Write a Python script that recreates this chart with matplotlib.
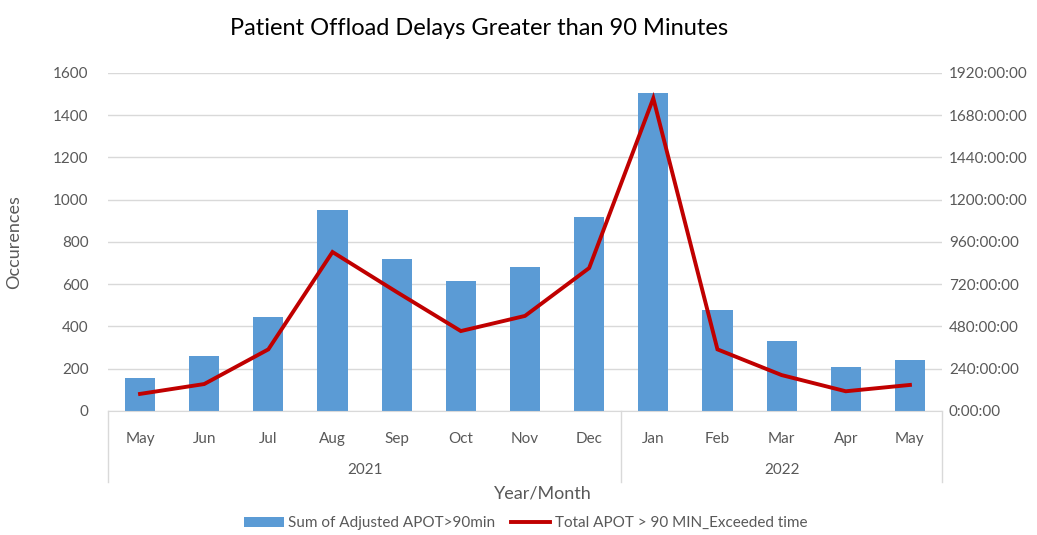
import numpy as np
import matplotlib
matplotlib.use("Agg")
import matplotlib.pyplot as plt
from matplotlib.ticker import FuncFormatter

months = ["May", "Jun", "Jul", "Aug", "Sep", "Oct", "Nov", "Dec",
          "Jan", "Feb", "Mar", "Apr", "May"]
years = ["2021", "2022"]
year_counts = [8, 5]
occurrences = [158, 262, 447, 951, 720, 616, 682, 918, 1505, 479, 332, 206, 239]
exceeded_hours = [97, 153, 350, 903, 676, 454, 540, 812, 1776, 350, 204, 112, 148]

plt.rcParams['font.family'] = ['Lato', 'DejaVu Sans']
grey = '#595959'

fig = plt.figure(figsize=(10.37, 5.35), dpi=100)
ax = fig.add_axes([0.1041, 0.2318, 0.8043, 0.6318])
ax2 = ax.twinx()

x = np.arange(len(months))
bars = ax.bar(x, occurrences, width=0.47, color='#5b9bd5', zorder=2,
              label='Sum of Adjusted APOT>90min')
line, = ax2.plot(x, exceeded_hours, color='#c00000', lw=2.8, zorder=3,
                 solid_joinstyle='miter', label='Total APOT > 90 MIN_Exceeded time')

ax.set_xlim(-0.5, len(months) - 0.5)
ax.set_ylim(0, 1600)
ax.set_yticks(range(0, 1601, 200))
ax2.set_ylim(0, 1920)
ax2.set_yticks(range(0, 1921, 240))
ax2.yaxis.set_major_formatter(FuncFormatter(lambda v, p: f"{int(v)}:00:00"))

ax.grid(axis='y', color='#d9d9d9', lw=1, zorder=0)
ax.set_axisbelow(True)
for a in (ax, ax2):
    for s in a.spines.values():
        s.set_visible(False)
    a.tick_params(length=0, colors=grey, labelsize=11)
ax.spines['bottom'].set_visible(True)
ax.spines['bottom'].set_color('#d9d9d9')
ax.tick_params(axis='y', pad=14)
ax2.tick_params(axis='y', pad=5)
ax.set_zorder(ax2.get_zorder() - 1)
ax2.patch.set_visible(False)
ax.patch.set_visible(False)

ax.set_xticks(x)
ax.set_xticklabels(months)
ax.tick_params(axis='x', pad=15)

# year group labels and separators
start = 0
bounds = [-0.5]
for yr, n in zip(years, year_counts):
    mid = start + (n - 1) / 2
    ax.text(mid, -0.175, yr, transform=ax.get_xaxis_transform(), ha='center',
            va='center', color=grey, fontsize=11)
    start += n
    bounds.append(start - 0.5)
for b in bounds:
    ax.plot([b, b], [0, -0.21], transform=ax.get_xaxis_transform(),
            color='#d9d9d9', lw=1, clip_on=False)

ax.set_ylabel('Occurences', color=grey, fontsize=13, labelpad=22)
fig.text(0.5235, 0.077, 'Year/Month', ha='center', va='center', color=grey, fontsize=13)
fig.text(0.462, 0.947, 'Patient Offload Delays Greater than 90 Minutes', ha='center',
         va='center', color='black', fontsize=17)

fig.legend(handles=[bars, line], loc='center', bbox_to_anchor=(0.507, 0.022),
           ncol=2, frameon=False, fontsize=11, labelcolor=grey,
           handlelength=2.6, handleheight=0.7, columnspacing=1.0, handletextpad=0.3)

fig.savefig('out.png', dpi=100)
